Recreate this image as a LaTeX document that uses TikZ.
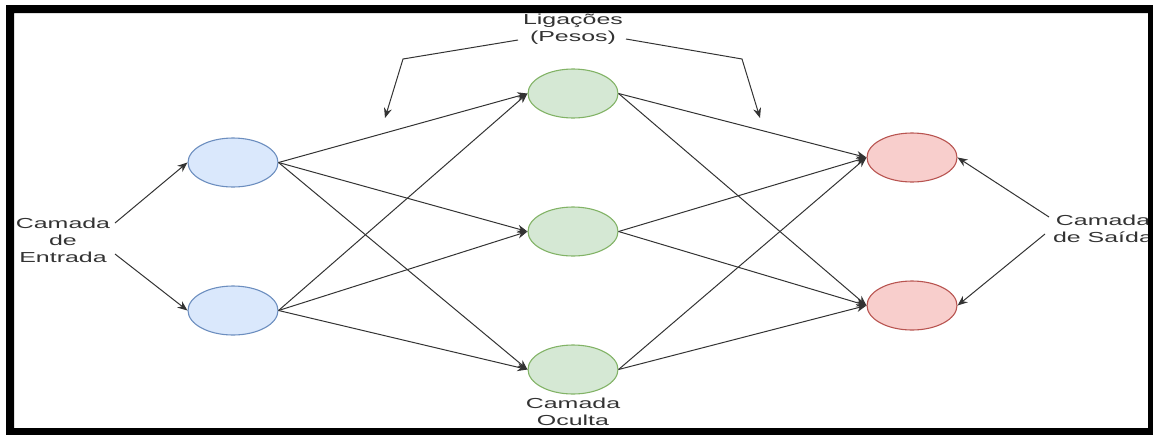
\documentclass[tikz,border=0pt]{standalone}
\usepackage{fontspec}
\setmainfont{Liberation Sans}
\usetikzlibrary{shapes.geometric,arrows.meta}

\definecolor{entfill}{HTML}{DAE8FC}
\definecolor{entline}{HTML}{6C8EBF}
\definecolor{ocufill}{HTML}{D5E8D4}
\definecolor{oculine}{HTML}{82B366}
\definecolor{saifill}{HTML}{F8CECC}
\definecolor{sailine}{HTML}{B85450}
\definecolor{txt}{HTML}{333333}

\tikzset{
  neuron/.style={ellipse, minimum width=90pt, minimum height=49pt, inner sep=0pt, line width=1.1pt},
  peso/.style={-{Stealth[length=10pt,width=8pt]}, draw=black!80, line width=1pt},
  rotulo/.style={align=center, text=txt, font=\fontsize{14.5}{17}\selectfont, xscale=1.72}
}

\begin{document}
\begin{tikzpicture}[x=1pt,y=-1pt]
\useasboundingbox (0,0) rectangle (1153,434);

% camadas
\node (e1) [neuron, fill=entfill, draw=entline] at (233,162.5) {};
\node (e2) [neuron, fill=entfill, draw=entline] at (233,310.5) {};

\node (o1) [neuron, fill=ocufill, draw=oculine] at (573,93.5) {};
\node (o2) [neuron, fill=ocufill, draw=oculine] at (573,231.5) {};
\node (o3) [neuron, fill=ocufill, draw=oculine] at (573,369.5) {};

\node (s1) [neuron, fill=saifill, draw=sailine] at (912,157.5) {};
\node (s2) [neuron, fill=saifill, draw=sailine] at (912,305.5) {};


% ligacoes
\draw [peso] (e1.east) -- (o1.west);
\draw [peso] (e1.east) -- (o2.west);
\draw [peso] (e1.east) -- (o3.west);
\draw [peso] (e2.east) -- (o1.west);
\draw [peso] (e2.east) -- (o2.west);
\draw [peso] (e2.east) -- (o3.west);

\draw [peso] (o1.east) -- (s1.west);
\draw [peso] (o1.east) -- (s2.west);
\draw [peso] (o2.east) -- (s1.west);
\draw [peso] (o2.east) -- (s2.west);
\draw [peso] (o3.east) -- (s1.west);
\draw [peso] (o3.east) -- (s2.west);


% rotulos
\node (ent) [rotulo] at (63,240) {Camada\\de\\Entrada};
\node (lig) [rotulo] at (573,29.5) {Ligações\\(Pesos)};
\node (ocu) [rotulo] at (573,412) {Camada\\Oculta};
\node (sai) [rotulo] at (1103,229) {Camada\\de Saída};

\coordinate (ent-a) at (115,223);
\coordinate (ent-b) at (115,254);
\coordinate (lig-a) at (518,40);
\coordinate (lig-b) at (403,59);
\coordinate (lig-c) at (385,118);
\coordinate (lig-d) at (626,39);
\coordinate (lig-e) at (742,59);
\coordinate (lig-f) at (760,118);
\coordinate (sai-a) at (1049,217);
\coordinate (sai-b) at (1045,234);

\draw [peso] (ent-a) -- (e1.west);
\draw [peso] (ent-b) -- (e2.west);
\draw [peso] (lig-a) -- (lig-b) -- (lig-c);
\draw [peso] (lig-d) -- (lig-e) -- (lig-f);
\draw [peso] (sai-a) -- (s1.east);
\draw [peso] (sai-b) -- (s2.east);


% moldura
\fill [even odd rule] (6,5) rectangle (1160,440) (14,13) rectangle (1148,428);

\end{tikzpicture}
\end{document}
